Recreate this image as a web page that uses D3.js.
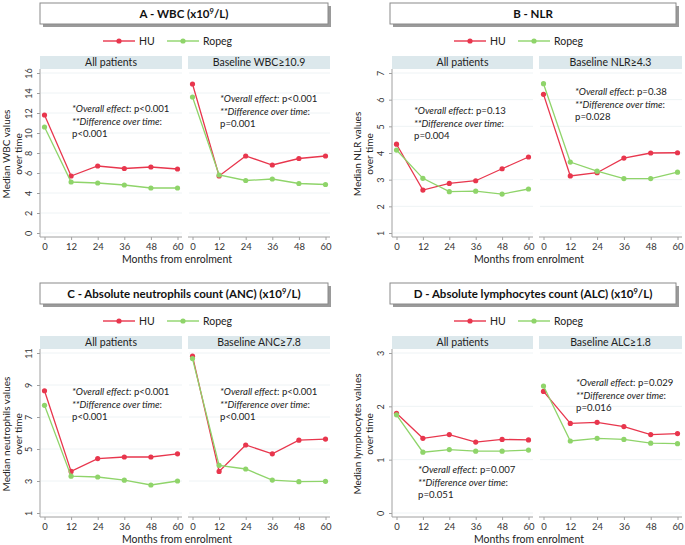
<!DOCTYPE html>
<html lang="en">
<head>
<meta charset="UTF-8">
<title>Median blood counts over time</title>
<script src="https://d3js.org/d3.v7.min.js"></script>
<style>
  body { margin: 0; background: #fff; }
  svg { font-family: Lato, "Open Sans", sans-serif; }
</style>
</head>
<body>
<svg width="685" height="545"></svg>
<script>
// data
const months = [0, 12, 24, 36, 48, 60];
const groups = ["HU", "Ropeg"];

const wbcAllHU = [11.8, 5.7, 6.7, 6.45, 6.6, 6.4];
const wbcAllRopeg = [10.6, 5.1, 5.0, 4.8, 4.5, 4.5];
const wbcBaseHU = [14.9, 5.7, 7.7, 6.8, 7.45, 7.7];
const wbcBaseRopeg = [13.6, 5.8, 5.25, 5.4, 4.95, 4.85];

const nlrAllHU = [4.33, 2.61, 2.86, 2.96, 3.41, 3.85];
const nlrAllRopeg = [4.11, 3.05, 2.55, 2.57, 2.46, 2.65];
const nlrBaseHU = [6.2, 3.14, 3.26, 3.81, 4.0, 4.01];
const nlrBaseRopeg = [6.6, 3.66, 3.32, 3.04, 3.04, 3.28];

const ancAllHU = [8.64, 3.6, 4.4, 4.5, 4.5, 4.7];
const ancAllRopeg = [7.73, 3.3, 3.25, 3.05, 2.75, 3.0];
const ancBaseHU = [10.8, 3.6, 5.25, 4.7, 5.55, 5.62];
const ancBaseRopeg = [10.65, 3.98, 3.75, 3.06, 2.96, 2.98];

const alcAllHU = [1.87, 1.40, 1.47, 1.33, 1.38, 1.37];
const alcAllRopeg = [1.84, 1.14, 1.19, 1.16, 1.16, 1.18];
const alcBaseHU = [2.28, 1.68, 1.70, 1.62, 1.47, 1.49];
const alcBaseRopeg = [2.38, 1.35, 1.40, 1.38, 1.31, 1.30];

const titles = [
  ["A - WBC (x10", "9", "/L)"],
  ["B - NLR", "", ""],
  ["C - Absolute neutrophils count (ANC) (x10", "9", "/L)"],
  ["D - Absolute lymphocytes count (ALC) (x10", "9", "/L)"]
];
const yTitles = [
  ["Median WBC values", "over time"],
  ["Median NLR values", "over time"],
  ["Median neutrophils values", "over time"],
  ["Median lymphocytes values", "over time"]
];
const yTicks = [
  [0, 2, 4, 6, 8, 10, 12, 14, 16],
  [1, 2, 3, 4, 5, 6, 7],
  [1, 3, 5, 7, 9, 11],
  [0, 1, 2, 3]
];
const stripLabels = [
  ["All patients", "Baseline WBC≥10.9"],
  ["All patients", "Baseline NLR≥4.3"],
  ["All patients", "Baseline ANC≥7.8"],
  ["All patients", "Baseline ALC≥1.8"]
];
const pOverall = [["p<0.001", "p<0.001"], ["p=0.13", "p=0.38"], ["p<0.001", "p<0.001"], ["p=0.007", "p=0.029"]];
const pTime = [["p<0.001", "p=0.001"], ["p=0.004", "p=0.028"], ["p<0.001", "p<0.001"], ["p=0.051", "p=0.016"]];

const seriesData = [
  [[wbcAllHU, wbcAllRopeg], [wbcBaseHU, wbcBaseRopeg]],
  [[nlrAllHU, nlrAllRopeg], [nlrBaseHU, nlrBaseRopeg]],
  [[ancAllHU, ancAllRopeg], [ancBaseHU, ancBaseRopeg]],
  [[alcAllHU, alcAllRopeg], [alcBaseHU, alcBaseRopeg]]
];

// layout
const colors = { HU: "#e8364d", Ropeg: "#8fd46a" };
const cols = [
  { box: [40, 328], axis: 40, plots: [[40, 182], [188, 330]], legendX: 103, yTitleX: [6, 18] },
  { box: [390, 676], axis: 392, plots: [[392, 533], [539, 682]], legendX: 454, yTitleX: [357, 369] }
];
// annotation text positions [x, firstLineCenterY] per panel, per facet
const notePos = [
  [[72, 108], [220, 98]],
  [[414, 110], [575, 91]],
  [[72, 111], [220, 111]],
  [[418, 189], [576, 102]]
];

const svg = d3.select("svg");

titles.forEach((t, i) => {
  const col = cols[i % 2];
  const oy = Math.floor(i / 2) * 280;
  const g = svg.append("g");
  const plotTop = oy + 69, plotBot = oy + 237;

  // title box with shadow
  g.append("rect")
    .attr("x", col.box[0] + 3).attr("y", oy + 6)
    .attr("width", col.box[1] - col.box[0]).attr("height", 21)
    .attr("fill", "#9a9a9a");
  g.append("rect")
    .attr("x", col.box[0]).attr("y", oy + 3)
    .attr("width", col.box[1] - col.box[0]).attr("height", 21)
    .attr("fill", "#fff").attr("stroke", "#8a8a8a").attr("stroke-width", 1);
  const tt = g.append("text")
    .attr("x", (col.box[0] + col.box[1]) / 2).attr("y", oy + 18)
    .attr("text-anchor", "middle")
    .attr("font-size", 11.5).attr("font-weight", "bold").attr("fill", "#111");
  tt.append("tspan").text(t[0]);
  if (t[1]) {
    tt.append("tspan").attr("dy", -4).attr("font-size", 7.5).text(t[1]);
    tt.append("tspan").attr("dy", 4).text(t[2]);
  }

  // legend
  const ly = oy + 41;
  const lg = g.append("g").attr("transform", `translate(${col.legendX},${ly})`);
  groups.forEach((s, k) => {
    const dx = k * 64;
    lg.append("line").attr("x1", dx).attr("x2", dx + 32).attr("y1", 0).attr("y2", 0)
      .attr("stroke", colors[s]).attr("stroke-width", 1.4);
    lg.append("circle").attr("cx", dx + 16).attr("cy", 0).attr("r", 2.6).attr("fill", colors[s]);
    lg.append("text").attr("x", dx + 36).attr("y", 0).attr("dy", "0.35em")
      .attr("font-size", 10.5).attr("fill", "#222").text(s);
  });

  const y = d3.scaleLinear()
    .domain([yTicks[i][0], yTicks[i][yTicks[i].length - 1]])
    .range([plotBot - 4, plotTop + 4]);

  col.plots.forEach((p, f) => {
    const x = d3.scaleLinear().domain([0, 60]).range([p[0] + 4.5, p[1] - 4.5]);

    // strip
    g.append("rect").attr("x", p[0]).attr("y", oy + 56)
      .attr("width", p[1] - p[0]).attr("height", 13).attr("fill", "#dce8ec");
    g.append("text").attr("x", (p[0] + p[1]) / 2).attr("y", oy + 62.5).attr("dy", "0.35em")
      .attr("text-anchor", "middle").attr("font-size", 10.5).attr("fill", "#222")
      .text(stripLabels[i][f]);

    // grid
    g.append("g").selectAll("line").data(yTicks[i]).join("line")
      .attr("x1", p[0] + 1).attr("x2", p[1])
      .attr("y1", d => y(d)).attr("y2", d => y(d))
      .attr("stroke", "#eef3f5").attr("stroke-width", 1);

    // x axis
    const xa = g.append("g").attr("transform", `translate(0,${plotBot})`)
      .call(d3.axisBottom(x).tickValues(months).tickSize(3).tickSizeOuter(0));
    xa.select(".domain").attr("d", `M${p[0]},0H${p[1]}`).attr("stroke", "#a0a0a0");
    xa.selectAll(".tick line").attr("stroke", "#a0a0a0");
    xa.selectAll(".tick text").attr("font-size", 9.5).attr("fill", "#333")
      .attr("font-family", "Lato, sans-serif").attr("y", 6);

    // series
    groups.forEach((s, k) => {
      const vals = seriesData[i][f][k];
      const pts = months.map((m, j) => [m, vals[j]]);
      g.append("path").datum(pts)
        .attr("fill", "none").attr("stroke", colors[s]).attr("stroke-width", 1.3)
        .attr("d", d3.line().x(d => x(d[0])).y(d => y(d[1])));
      g.append("g").selectAll("circle").data(pts).join("circle")
        .attr("cx", d => x(d[0])).attr("cy", d => y(d[1])).attr("r", 2.6)
        .attr("fill", colors[s]);
    });

    // annotation
    const [nx, ny] = notePos[i][f];
    const note = g.append("g").attr("font-size", 9.6).attr("fill", "#222");
    const l1 = note.append("text").attr("x", nx).attr("y", oy + ny + 3.5);
    l1.append("tspan").attr("font-style", "italic").text("*Overall effect");
    l1.append("tspan").text(": " + pOverall[i][f]);
    const l2 = note.append("text").attr("x", nx).attr("y", oy + ny + 16.5);
    l2.append("tspan").attr("font-style", "italic").text("**Difference over time");
    l2.append("tspan").text(":");
    note.append("text").attr("x", nx).attr("y", oy + ny + 28.5).text(pTime[i][f]);
  });

  // y axis
  const ya = g.append("g").attr("transform", `translate(${col.axis},0)`)
    .call(d3.axisLeft(y).tickValues(yTicks[i]).tickFormat(d3.format("d")).tickSize(3).tickSizeOuter(0));
  ya.select(".domain").attr("d", `M0,${plotTop}V${plotBot}`).attr("stroke", "#a0a0a0");
  ya.selectAll(".tick line").attr("stroke", "#a0a0a0");
  ya.selectAll(".tick text")
    .attr("font-size", 9).attr("fill", "#333").attr("font-family", "Lato, sans-serif")
    .attr("transform", "rotate(-90)")
    .attr("x", 0).attr("y", -11).attr("dy", "0.35em")
    .attr("text-anchor", "middle");

  // axis titles
  const midY = (plotTop + plotBot) / 2 + 1;
  yTitles[i].forEach((line, k) => {
    g.append("text")
      .attr("transform", `translate(${col.yTitleX[k]},${midY}) rotate(-90)`)
      .attr("dy", "0.35em").attr("text-anchor", "middle")
      .attr("font-size", 10).attr("fill", "#222").text(line);
  });
  g.append("text")
    .attr("x", (col.plots[0][0] + col.plots[1][1]) / 2 - 8).attr("y", oy + 259).attr("dy", "0.35em")
    .attr("text-anchor", "middle").attr("font-size", 10.5).attr("fill", "#222")
    .text("Months from enrolment");
});
</script>
</body>
</html>
